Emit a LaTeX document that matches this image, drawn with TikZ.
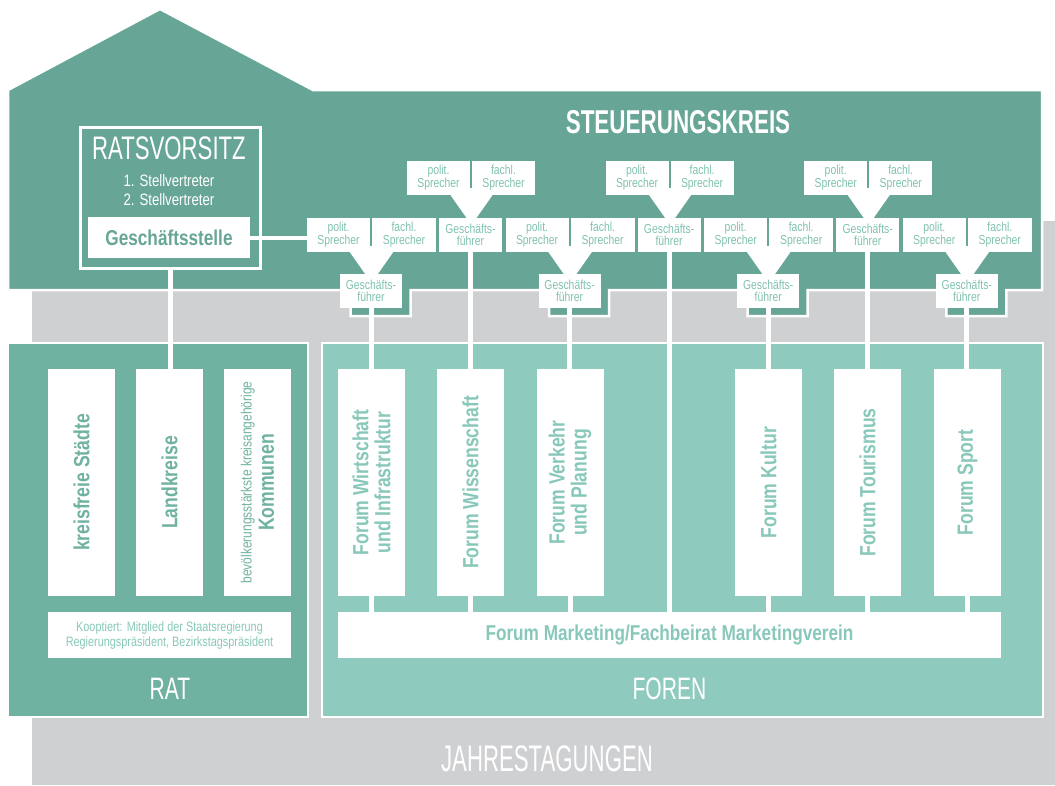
\documentclass[tikz,border=0pt]{standalone}
\usepackage{fontspec}
\setmainfont{Liberation Sans}[FakeStretch=0.8]
\newfontfamily\titlefont{Liberation Sans}[FakeStretch=0.68]
\newfontfamily\jfont{Liberation Sans}[FakeStretch=0.6]
\usetikzlibrary{calc}
\definecolor{house}{RGB}{103,166,150}
\definecolor{ratc}{RGB}{112,178,161}
\definecolor{forenc}{RGB}{142,202,189}
\definecolor{graybg}{RGB}{207,208,210}
\definecolor{sprtext}{RGB}{128,194,177}
\definecolor{ftext}{RGB}{136,200,186}
\begin{document}
\begin{tikzpicture}[x=1pt,y=-1pt,
  wbox/.style={fill=white, inner sep=0pt, outer sep=0pt, anchor=north west, align=center},
  spr/.style={wbox, minimum height=33.5pt, text=sprtext, font=\fontsize{13}{12.5}\selectfont},
  vbox/.style={fill=white, inner sep=0pt, outer sep=0pt, rotate=90, minimum width=227pt, minimum height=67pt, align=center},
  ftxt/.style={text=ftext, font=\bfseries\fontsize{22}{22}\selectfont},
  rtxt/.style={text=ratc, font=\bfseries\fontsize{22}{22}\selectfont},
  conn/.style={white, line width=5pt},
  title/.style={text=white, inner sep=0pt}]
\useasboundingbox (0,0) rectangle (1055,785);
% background regions
\fill[graybg] (32,221) rectangle (1055,785);
\filldraw[fill=house, draw=white, line width=2.5pt] (8,90) -- (160,9) -- (313,90) -- (1042,90) -- (1042,290)
  -- (1006.3,290) -- (1006.3,316) -- (946.3,316) -- (946.3,290)
  -- (807.7,290) -- (807.7,316) -- (747.7,316) -- (747.7,290)
  -- (609,290) -- (609,316) -- (549,316) -- (549,290)
  -- (410.5,290) -- (410.5,316) -- (350.5,316) -- (350.5,290)
  -- (8,290) -- cycle;
\filldraw[fill=ratc, draw=white, line width=2pt] (8,343) rectangle (308,717);
\filldraw[fill=forenc, draw=white, line width=2pt] (322,343) rectangle (1043,717);
% titles
\node[title, font=\titlefont\bfseries\fontsize{33}{33}\selectfont] (sk) at (678,122) {STEUERUNGSKREIS};
\node[title, font=\titlefont\fontsize{32.6}{33}\selectfont] (rvt) at (169,148.5) {RATSVORSITZ};
\node[title, align=center, font=\fontsize{16.5}{19}\selectfont] (stv) at (169,190.5) {1. Stellvertreter\\2. Stellvertreter};
\node[title, font=\titlefont\fontsize{31}{31}\selectfont] (rat) at (170,688.5) {RAT};
\node[title, font=\titlefont\fontsize{31}{31}\selectfont] (foren) at (669.5,688.5) {FOREN};
\node[title, font=\jfont\fontsize{37}{37}\selectfont] (jt) at (547,758.5) {JAHRESTAGUNGEN};
% Ratsvorsitz frame and Geschaeftsstelle
\node[draw=white, line width=2.5pt, minimum width=180pt, minimum height=141pt, anchor=north west, inner sep=0pt] (rv) at (79,126) {};
\node[wbox, minimum width=162pt, minimum height=41pt, text=house, font=\bfseries\fontsize{21.5}{22}\selectfont] (gs) at (88,217) {Geschäftsstelle};
% funnels
\foreach \i in {0,1,2,3}{
  \pgfmathsetmacro{\cx}{371.5+198.6*\i}
  \fill[white] (\cx-26,246) -- (\cx+26,246) -- (\cx,283) -- cycle;
}
\foreach \j in {0,1,2}{
  \pgfmathsetmacro{\cx}{471.5+198.6*\j}
  \fill[white] (\cx-26,188) -- (\cx+26,188) -- (\cx,225) -- cycle;
}
% middle row pairs
\foreach \i in {0,1,2,3}{
  \node[spr, minimum width=63pt] (pm\i) at (307+198.6*\i,218) {polit.\\Sprecher};
  \node[spr, minimum width=64pt] (fm\i) at (372+198.6*\i,218) {fachl.\\Sprecher};
  \node[spr, minimum width=62pt] (lg\i) at (340+198.6*\i,274) {Geschäfts-\\führer};
}
\foreach \j in {0,1,2}{
  \node[spr, minimum width=63pt] (pu\j) at (407+198.6*\j,161) {polit.\\Sprecher};
  \node[spr, minimum width=63pt] (fu\j) at (472+198.6*\j,161) {fachl.\\Sprecher};
  \node[spr, minimum width=63pt] (ug\j) at (439+198.6*\j,218) {Geschäfts-\\führer};
}
% RAT boxes
\node[vbox, rtxt] (rk0) at (81.5,482.5) {kreisfreie Städte};
\node[vbox, rtxt] (rk1) at (169.5,482.5) {Landkreise};
\node[vbox, text=ratc, font=\fontsize{15}{17}\selectfont] (rk2) at (257.5,482.5) {bevölkerungsstärkste kreisangehörige\\[3pt]{\bfseries\fontsize{22}{17}\selectfont Kommunen}};
\node[wbox, minimum width=243pt, minimum height=46pt, text=ftext, font=\fontsize{13.6}{15}\selectfont] (koop) at (48,612) {Kooptiert: Mitglied der Staatsregierung\\Regierungspräsident, Bezirkstagspräsident};
% FOREN boxes
\node[vbox, ftxt] (f0) at (371.5,482.5) {Forum Wirtschaft\\und Infrastruktur};
\node[vbox, ftxt] (f1) at (470.5,482.5) {Forum Wissenschaft};
\node[vbox, ftxt] (f2) at (570,482.5) {Forum Verkehr\\und Planung};
\node[vbox, ftxt] (f4) at (768.5,482.5) {Forum Kultur};
\node[vbox, ftxt] (f5) at (867.5,482.5) {Forum Tourismus};
\node[vbox, ftxt] (f6) at (967.5,482.5) {Forum Sport};
\node[wbox, minimum width=663pt, minimum height=46pt, text=ftext, font=\bfseries\fontsize{21.5}{22}\selectfont] (mkt) at (338,612) {Forum Marketing/Fachbeirat Marketingverein};
% connectors
\draw[white, line width=4pt] (gs.east) -- (gs.east -| pm0.west);
\draw[conn] (rv.south) -- (rv.south |- rk1.east);
\draw[conn] (lg0.south) -- (lg0.south |- f0.east);
\draw[conn] (f0.west) -- (f0.west |- mkt.north);
\draw[conn] (ug0.south) -- (ug0.south |- f1.east);
\draw[conn] (f1.west) -- (f1.west |- mkt.north);
\draw[conn] (lg1.south) -- (lg1.south |- f2.east);
\draw[conn] (f2.west) -- (f2.west |- mkt.north);
\draw[conn] (ug1.south) -- (ug1.south |- mkt.north);
\draw[conn] (lg2.south) -- (lg2.south |- f4.east);
\draw[conn] (f4.west) -- (f4.west |- mkt.north);
\draw[conn] (ug2.south) -- (ug2.south |- f5.east);
\draw[conn] (f5.west) -- (f5.west |- mkt.north);
\draw[conn] (lg3.south) -- (lg3.south |- f6.east);
\draw[conn] (f6.west) -- (f6.west |- mkt.north);
\end{tikzpicture}
\end{document}
